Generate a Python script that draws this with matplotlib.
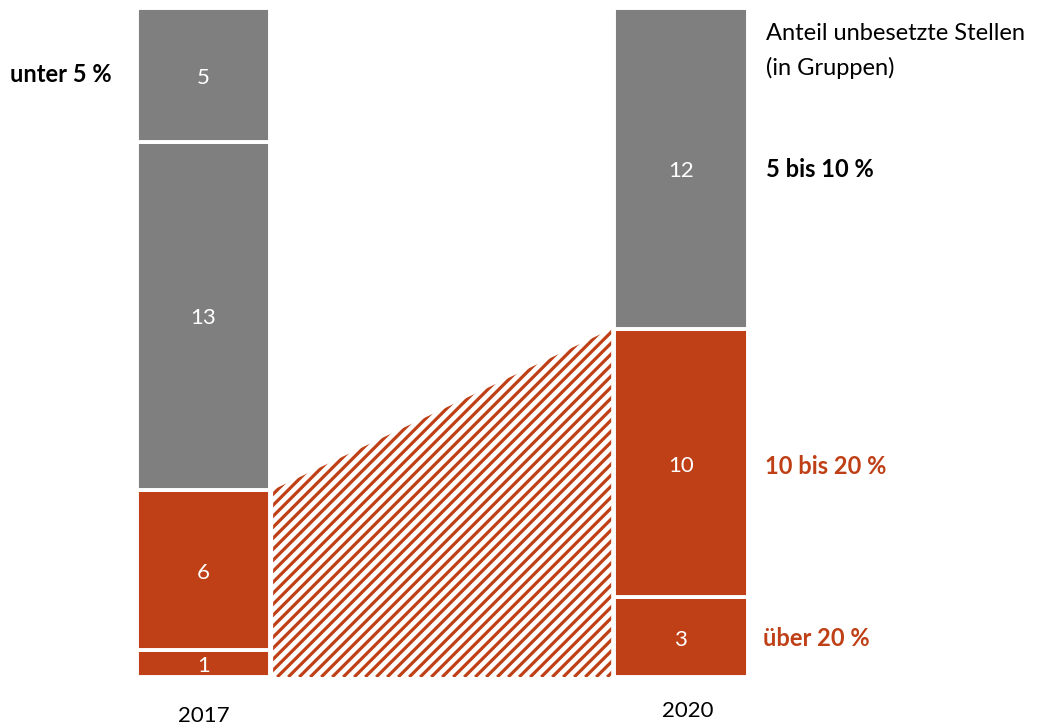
import numpy as np
import matplotlib
matplotlib.use("Agg")
import matplotlib.pyplot as plt
from matplotlib.patches import Polygon

plt.rcParams['font.family'] = ['Lato', 'DejaVu Sans']

# stacked counts per year, from bottom to top
years = ["2017", "2020"]
groups = ["über 20 %", "10 bis 20 %", "5 bis 10 %", "unter 5 %"]
counts_2017 = [1, 6, 13, 5]
counts_2020 = [3, 10, 12, 0]
title_lines = ["Anteil unbesetzte Stellen", "(in Gruppen)"]

RED = "#BF4016"
GREY = "#7F7F7F"
seg_colors = [RED, RED, GREY, GREY]

fig = plt.figure(figsize=(10.39, 7.26), dpi=100)
ax = fig.add_axes([0, 0, 1, 1])
ax.set_xlim(-0.426, 1.750)
ax.set_ylim(-1.83, 25.3)
ax.axis("off")

width = 0.28
xpos = [0, 1]
for x, counts in zip(xpos, [counts_2017, counts_2020]):
    bottom = 0
    for c, col in zip(counts, seg_colors):
        if c == 0:
            continue
        ax.bar(x, c, width=width, bottom=bottom, color=col,
               edgecolor="white", linewidth=2.8)
        ax.text(x, bottom + c / 2 - 0.1, str(c), color="white", fontsize=16,
                ha="center", va="center")
        bottom += c

# hatched band linking the red shares of both years
red_2017 = counts_2017[0] + counts_2017[1]
red_2020 = counts_2020[0] + counts_2020[1]
x0 = xpos[0] + width / 2 + 0.006
x1 = xpos[1] - width / 2 - 0.006
band = Polygon([(x0, 0), (x0, red_2017), (x1, red_2020), (x1, 0)],
               closed=True, facecolor="none", edgecolor="none")
ax.add_patch(band)

# 45 degree stripes in screen space
px_x = 477.5          # pixels per x unit
px_y = 26.76          # pixels per y unit
slope = px_x / px_y
step = 11.0 / px_x
for off in np.arange(x0 - red_2020 / slope - step, x1 + step, step):
    xs = np.array([off, off + 30 / slope])
    ys = (xs - off) * slope
    ln, = ax.plot(xs, ys, color=RED, lw=2.3, solid_capstyle="butt")
    ln.set_clip_path(band)

# year labels
ax.text(xpos[0], -1.45, years[0], fontsize=16, ha="center", va="center")
ax.text(xpos[1] + 0.015, -1.27, years[1], fontsize=16, ha="center", va="center")

# group labels
ax.text(-0.405, 22.5, groups[3], fontsize=17, fontweight="bold",
        ha="left", va="center", color="black")
ax.text(1.178, 18.95, groups[2], fontsize=17, fontweight="bold",
        ha="left", va="center", color="black")
ax.text(1.176, 7.85, groups[1], fontsize=17, fontweight="bold",
        ha="left", va="center", color=RED)
ax.text(1.172, 1.45, groups[0], fontsize=17, fontweight="bold",
        ha="left", va="center", color=RED)

ax.text(1.178, 24.05, title_lines[0], fontsize=17, ha="left", va="center")
ax.text(1.178, 22.75, title_lines[1], fontsize=17, ha="left", va="center")

fig.savefig("out.png", dpi=100)
